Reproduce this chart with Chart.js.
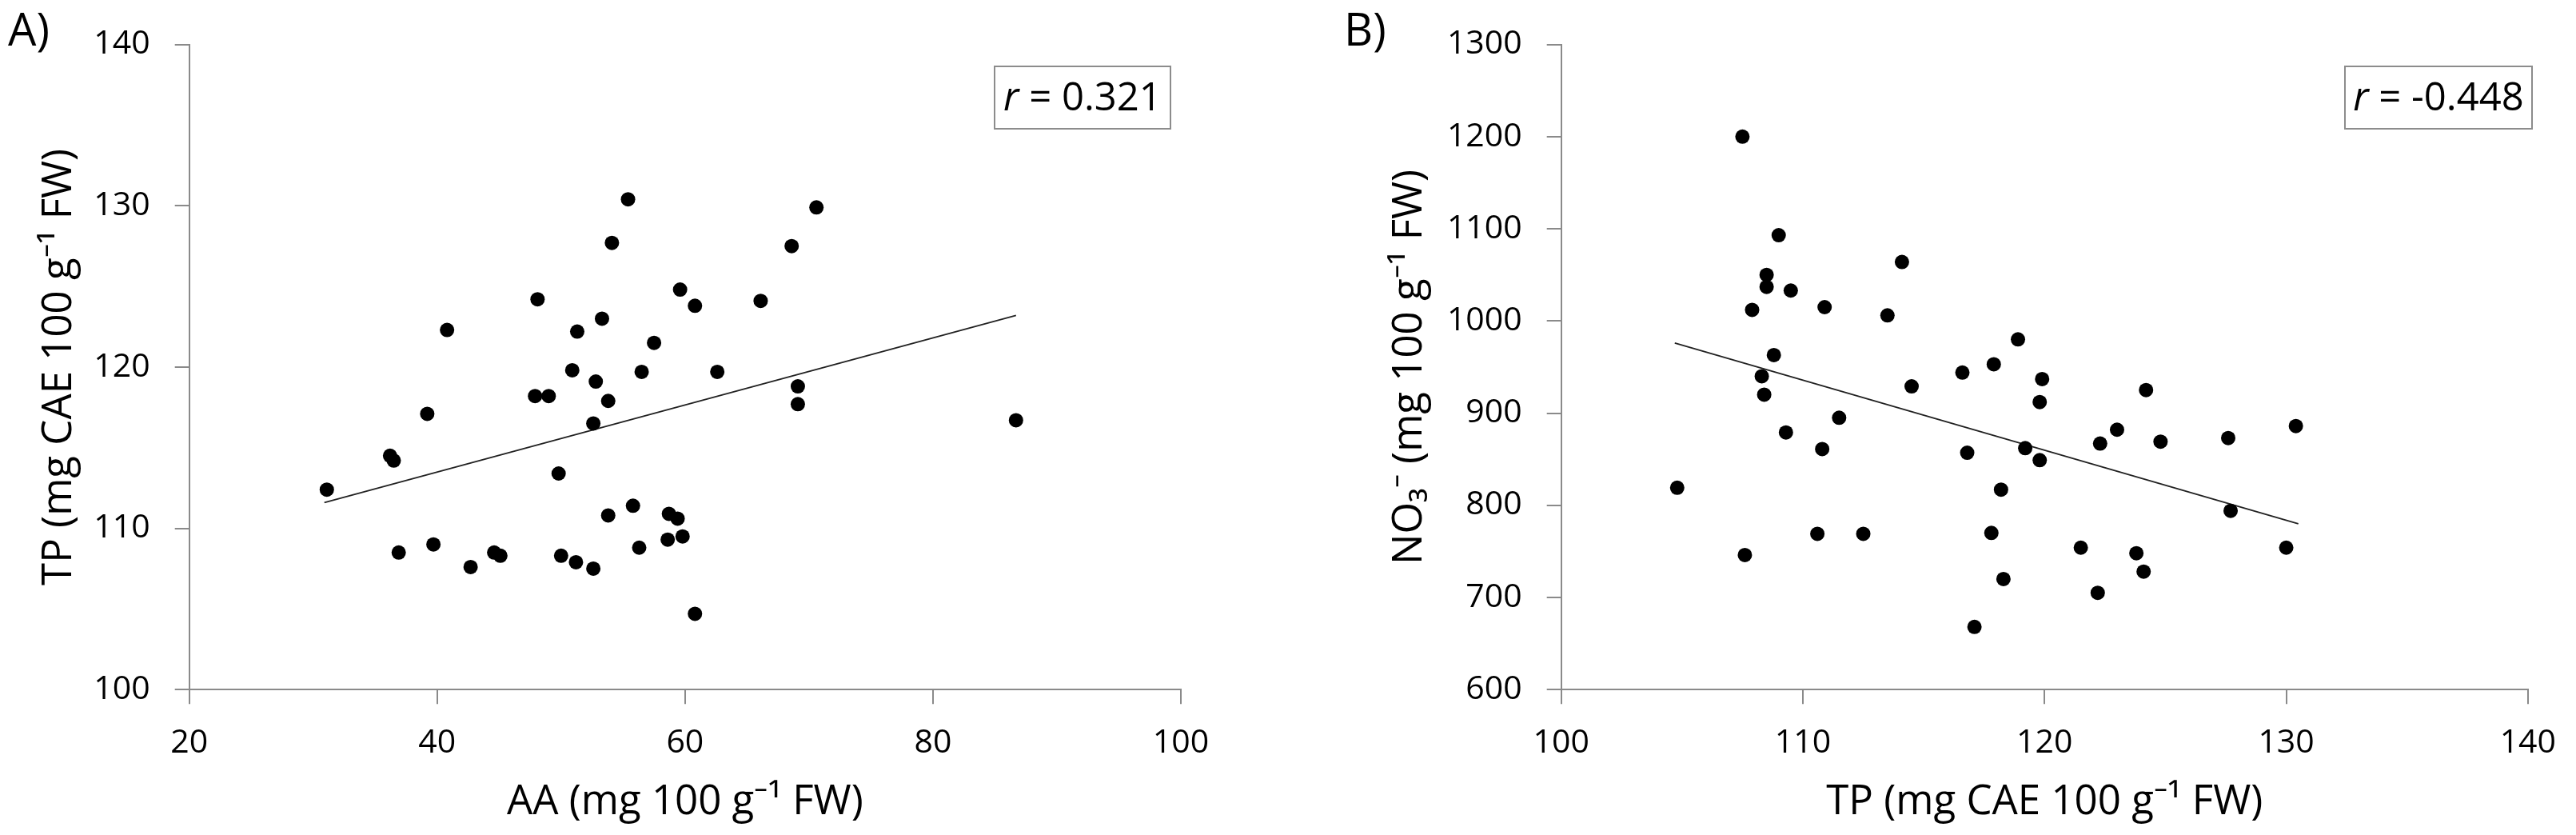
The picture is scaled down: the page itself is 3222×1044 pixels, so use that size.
<!DOCTYPE html>
<html>
<head>
<meta charset="utf-8">
<script src="https://cdn.jsdelivr.net/npm/chart.js@4.4.1/dist/chart.umd.min.js"></script>
<style>
  body { margin: 0; background: #fff; width: 3222px; height: 1044px; position: relative; overflow: hidden; font-family: 'Open Sans', sans-serif; color: #000; }
  canvas { position: absolute; top: 0; }
  #chartA { left: 0; }
  #chartB { left: 1600px; }
  .panel { position: absolute; font-size: 56px; line-height: 1; }
  .rbox { position: absolute; box-sizing: border-box; border: 2px solid #8c8c8c; height: 80px; top: 82px;
          font-size: 49px; line-height: 70px; text-align: center; background: #fff; }
</style>
</head>
<body>
<canvas id="chartA" width="1580" height="1044"></canvas>
<canvas id="chartB" width="1622" height="1044"></canvas>
<div class="panel" style="left:10px; top:7px;">A)</div>
<div class="panel" style="left:1681px; top:7px;">B)</div>
<div class="rbox" style="left:1243px; width:222px;"><i>r</i> = 0.321</div>
<div class="rbox" style="left:2932px; width:236px;"><i>r</i> = -0.448</div>

<script>
// panel A: AA vs TP
const aaValues = [55.4, 54.1, 48.1, 53.3, 40.8, 51.3, 57.5, 50.9, 56.5, 52.8, 47.9, 49.0, 53.8, 39.2, 52.6,
  36.2, 36.5, 31.1, 49.8, 53.8, 55.8, 58.7, 58.6, 56.3, 36.9, 39.7, 42.7, 44.6, 45.1, 50.0,
  51.2, 52.6, 70.6, 68.6, 59.6, 60.8, 66.1, 62.6, 69.1, 69.1, 86.7, 59.4, 59.8, 60.8];
const tpByAa = [130.4, 127.7, 124.2, 123.0, 122.3, 122.2, 121.5, 119.8, 119.7, 119.1, 118.2, 118.2, 117.9, 117.1, 116.5,
  114.5, 114.2, 112.4, 113.4, 110.8, 111.4, 110.9, 109.3, 108.8, 108.5, 109.0, 107.6, 108.5, 108.3, 108.3,
  107.9, 107.5, 129.9, 127.5, 124.8, 123.8, 124.1, 119.7, 118.8, 117.7, 116.7, 110.6, 109.5, 104.7];
const trendAx = [30.9, 86.7];
const trendAy = [111.6, 123.2];
const aaTicks = [20, 40, 60, 80, 100];
const tpTicksA = [100, 110, 120, 130, 140];

// panel B: TP vs NO3-
const tpValues = [107.5, 109.0, 114.1, 108.5, 108.5, 109.5, 107.9, 110.9, 113.5, 108.8, 108.3, 108.4, 116.6, 114.5, 111.5,
  109.3, 110.8, 116.8, 104.8, 110.6, 112.5, 107.6, 117.1, 118.9, 117.9, 119.9, 119.8, 124.2, 123.0, 122.3,
  124.8, 127.6, 130.4, 119.2, 119.8, 118.2, 127.7, 117.8, 121.5, 123.8, 124.1, 130.0, 118.3, 122.2];
const no3Values = [1200, 1093, 1064, 1050, 1037, 1033, 1012, 1015, 1006, 963, 940, 920, 944, 929, 895,
  879, 861, 857, 819, 769, 769, 746, 668, 980, 953, 937, 912, 925, 882, 867,
  869, 873, 886, 862, 849, 817, 794, 770, 754, 748, 728, 754, 720, 705];
const trendBx = [104.7, 130.5];
const trendBy = [976, 780];
const tpTicksB = [100, 110, 120, 130, 140];
const no3Ticks = [600, 700, 800, 900, 1000, 1100, 1200, 1300];

Chart.defaults.font.family = "'Open Sans', sans-serif";
Chart.defaults.color = "#000";

function toPoints(xs, ys) {
  return xs.map((x, i) => ({ x: x, y: ys[i] }));
}

function axis(min, max, ticks, title, isY, fixedSize, titlePad) {
  return {
    type: "linear",
    min: min,
    max: max,
    afterBuildTicks: a => { a.ticks = ticks.map(v => ({ value: v })); },
    afterFit: a => { if (isY) a.width = fixedSize; else a.height = fixedSize; },
    border: { display: true, color: "#8a8a8a", width: 2 },
    grid: { drawOnChartArea: false, drawTicks: true, tickLength: 18, color: "#8a8a8a", lineWidth: 2 },
    ticks: { font: { size: 41 }, padding: isY ? 31 : 25, color: "#000", callback: v => String(v) },
    title: { display: true, text: title, font: { size: 51 }, color: "#000", padding: titlePad }
  };
}

function makeChart(id, xs, ys, tx, ty, xAxis, yAxis, pad) {
  const ctx = document.getElementById(id).getContext("2d");
  return new Chart(ctx, {
    type: "scatter",
    data: {
      datasets: [{
        data: toPoints(xs, ys),
        backgroundColor: "#000",
        borderWidth: 0,
        pointRadius: 9,
        pointHoverRadius: 9
      }, {
        data: toPoints(tx, ty),
        showLine: true,
        borderColor: "#222",
        borderWidth: 1.8,
        pointRadius: 0
      }]
    },
    options: {
      responsive: false,
      animation: false,
      devicePixelRatio: 1,
      layout: { padding: pad },
      plugins: { legend: { display: false }, tooltip: { enabled: false } },
      scales: { x: xAxis, y: yAxis }
    }
  });
}

makeChart("chartA", aaValues, tpByAa, trendAx, trendAy,
  axis(20, 100, aaTicks, "AA (mg 100 g\u207B\u00B9 FW)", false, 181.8, { top: 0, bottom: 10 }),
  axis(100, 140, tpTicksA, "TP (mg CAE 100 g\u207B\u00B9 FW)", true, 236.7, { top: 44, bottom: 0 }),
  { top: 39.3, right: 103, bottom: 0, left: 0 });

makeChart("chartB", tpValues, no3Values, trendBx, trendBy,
  axis(100, 140, tpTicksB, "TP (mg CAE 100 g\u207B\u00B9 FW)", false, 181.8, { top: 0, bottom: 10 }),
  axis(600, 1300, no3Ticks, "NO\u2083\u207B (mg 100 g\u207B\u00B9 FW)", true, 352.7, { top: 133, bottom: 0 }),
  { top: 39.3, right: 57, bottom: 0, left: 0 });
</script>
</body>
</html>
